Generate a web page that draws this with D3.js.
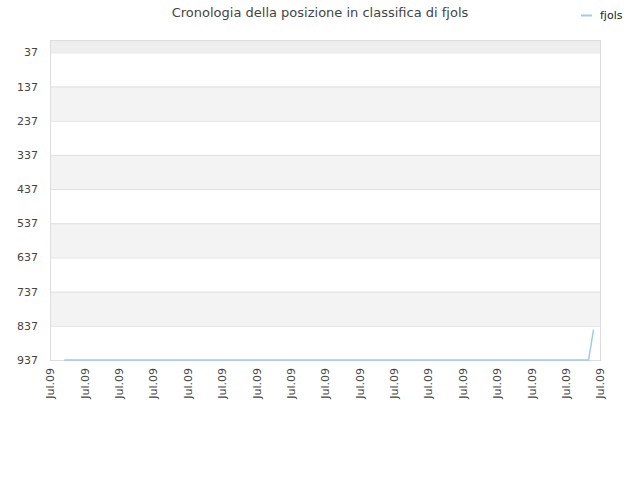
<!DOCTYPE html>
<html>
<head>
<meta charset="utf-8">
<script src="https://cdn.jsdelivr.net/npm/d3@7"></script>
<style>
body { margin: 0; background: #fff; }
text { font-family: "DejaVu Sans", sans-serif; }
</style>
</head>
<body>
<div id="chart"></div>
<script>
// data
let seriesName = "fjols";
let dates = ["2009-07-01T10:00", "2009-07-04T12:00", "2009-07-08T12:00", "2009-07-12T12:00", "2009-07-16T16:00", "2009-07-16T19:30"];
let positions = [937, 937, 937, 937, 937, 848];
let yTicks = [37, 137, 237, 337, 437, 537, 637, 737, 837, 937];
let xStart = "2009-07-01T00:00";
let xEnd = "2009-07-17T00:00";

let parse = d3.timeParse("%Y-%m-%dT%H:%M");
let points = dates.map(function(d, i){ return {date: parse(d), pos: positions[i]}; });

let width = 640, height = 480;
let plotLeft = 50, plotRight = 600, plotTop = 40, plotBottom = 360;

let svg = d3.select("#chart").append("svg")
  .attr("width", width)
  .attr("height", height);

let x = d3.scaleTime().domain([parse(xStart), parse(xEnd)]).range([plotLeft, plotRight]);
let y = d3.scaleLinear().domain([1, 937]).range([plotTop, plotBottom]);

// background bands
let bandEdges = [1].concat(yTicks);
for (let i = 0; i < bandEdges.length - 1; i++) {
  svg.append("rect")
    .attr("x", plotLeft)
    .attr("y", y(bandEdges[i]))
    .attr("width", plotRight - plotLeft)
    .attr("height", y(bandEdges[i + 1]) - y(bandEdges[i]))
    .attr("fill", i == 0 ? "#eeeeee" : (i % 2 == 0 ? "#f3f3f3" : "#ffffff"));
}

// grid lines
svg.selectAll(".grid").data(yTicks).enter().append("line")
  .attr("x1", plotLeft).attr("x2", plotRight)
  .attr("y1", function(d){ return y(d) + 0.5; })
  .attr("y2", function(d){ return y(d) + 0.5; })
  .attr("stroke", "#e0e0e0");

// frame
svg.append("rect")
  .attr("x", plotLeft + 0.5).attr("y", plotTop + 0.5)
  .attr("width", plotRight - plotLeft).attr("height", plotBottom - plotTop)
  .attr("fill", "none")
  .attr("stroke", "#dddddd");

// y axis
let yAxis = d3.axisLeft(y).tickValues(yTicks).tickSize(0).tickPadding(12);
let gy = svg.append("g").attr("transform", "translate(" + plotLeft + ",0)").call(yAxis);
gy.select(".domain").remove();
gy.selectAll("text").attr("font-size", 11).attr("fill", "#444");

// x axis
let xAxis = d3.axisBottom(x).ticks(d3.timeDay.every(1)).tickSize(0).tickPadding(6)
  .tickFormat(d3.timeFormat("%b.%y"));
let gx = svg.append("g").attr("transform", "translate(0," + plotBottom + ")").call(xAxis);
gx.select(".domain").remove();
gx.selectAll("text")
  .attr("font-size", 11)
  .attr("fill", "#444")
  .attr("text-anchor", "end")
  .attr("transform", "rotate(-90)")
  .attr("x", -8)
  .attr("y", 0)
  .attr("dy", "0.35em");

// line
let line = d3.line()
  .x(function(d){ return x(d.date); })
  .y(function(d){ return y(d.pos); });

svg.append("path")
  .datum(points)
  .attr("d", line)
  .attr("fill", "none")
  .attr("stroke", "#9ecaf0")
  .attr("stroke-width", 1.5);

// title
svg.append("text")
  .attr("x", 320).attr("y", 17)
  .attr("text-anchor", "middle")
  .attr("font-size", 13)
  .attr("fill", "#444")
  .text("Cronologia della posizione in classifica di " + seriesName);

// legend
svg.append("line")
  .attr("x1", 581).attr("x2", 592)
  .attr("y1", 15.5).attr("y2", 15.5)
  .attr("stroke", "#9ecaf0")
  .attr("stroke-width", 2);
svg.append("text")
  .attr("x", 600).attr("y", 19)
  .attr("font-size", 11)
  .attr("fill", "#222")
  .text(seriesName);
</script>
</body>
</html>
